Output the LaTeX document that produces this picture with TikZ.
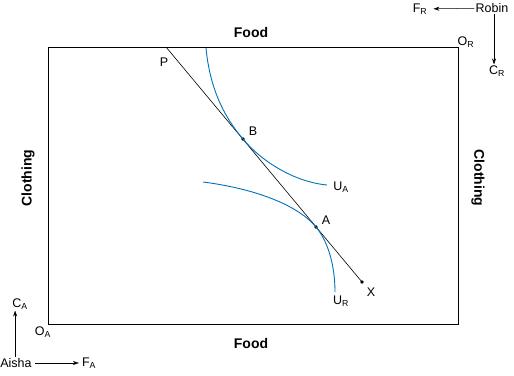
\documentclass[tikz,border=0pt]{standalone}
\usepackage{fontspec}
\setmainfont{Liberation Sans}
\usetikzlibrary{arrows.meta}
\newcommand{\lowsub}[1]{\textsubscript{#1}}
\tikzset{
  lbl/.style={font=\fontsize{12.5}{14}\selectfont, inner sep=1pt},
  axislbl/.style={font=\fontsize{14}{16}\selectfont\bfseries, inner sep=1pt},
  indiff/.style={draw={rgb,255:red,0;green,114;blue,188}, line width=0.9pt},
  dirarrow/.style={-{Stealth[length=6pt,width=4pt]}, line width=0.5pt},
  dot/.style={circle, fill=black, inner sep=0pt, minimum size=3.6pt}
}
\begin{document}
\begin{tikzpicture}[x=1pt,y=-1pt]
        \useasboundingbox (0,0) rectangle (514,375);
        % Draw the box
        \draw[line width=0.6pt] (48,47) rectangle (458,324);
        \node[axislbl] (foodtop) at (251,32) {Food};
        \node[axislbl] (foodbot) at (251,343) {Food};
        \node[axislbl, rotate=90] (clothl) at (28,178) {Clothing};
        \node[axislbl, rotate=-90] (clothr) at (478,178) {Clothing};

        % Origins and directions
        \node[lbl] (or) at (466,42) {O\lowsub{R}};
        \node[lbl] (robin) at (492,8) {Robin};
        \node[lbl] (fr) at (420,9) {F\lowsub{R}};
        \node[lbl] (cr) at (497,71) {C\lowsub{R}};
        \draw[dirarrow, shorten >=5pt] (robin) -- (fr);
        \draw[dirarrow] ([xshift=2pt]robin.south) -- ([xshift=2pt]robin.south |- cr.north);
        \node[lbl] (oa) at (43,332) {O\lowsub{A}};
        \node[lbl] (aisha) at (16,363) {Aisha};
        \node[lbl] (fa) at (89,363) {F\lowsub{A}};
        \node[lbl] (ca) at (20,304) {C\lowsub{A}};
        \draw[dirarrow, shorten <=2pt, shorten >=2pt] (aisha) -- (fa);
        \draw[dirarrow] ([xshift=4pt]ca.south west |- aisha.north) -- ([xshift=4pt]ca.south west);

        % Draw the price line
        \coordinate (P) at (166,47);
        \node[dot] (X) at (362,282) {};
        \node[dot] (B) at (243,139) {};
        \node[dot] (A) at (316,227) {};
        \draw[line width=0.6pt] (P) -- (X.center);

        % Indifference curves
        \draw[indiff] (206,48) .. controls (210,90) and (225,118) .. (B.center)
                      .. controls (262,162) and (295,182) .. (327,185);
        \draw[indiff] (203,182) .. controls (250,188) and (296,203) .. (A.center)
                      .. controls (330,244) and (335,270) .. (335,292);

        % Labels
        \node[lbl] at (164,62) {P};
        \node[lbl] at (253,131) {B};
        \node[lbl] at (326,220) {A};
        \node[lbl] at (371,292) {X};
        \node[lbl] at (341,187) {U\lowsub{A}};
        \node[lbl] at (341,301) {U\lowsub{R}};
\end{tikzpicture}
\end{document}
